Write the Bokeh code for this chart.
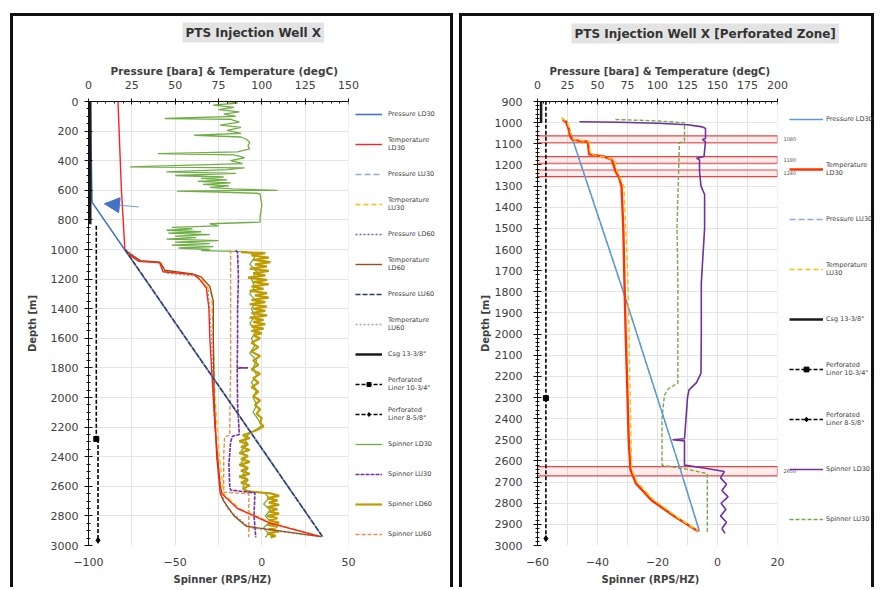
from bokeh.plotting import figure
from bokeh.models import (Range1d, LinearAxis, SingleIntervalTicker, FixedTicker, Legend,
                          LegendItem, Title, Label, Arrow, NormalHead, Spacer, BoxAnnotation)
from bokeh.layouts import row, column
from bokeh.embed import file_html
from bokeh.resources import INLINE

FONT = "DejaVu Sans"
TXT = "#404040"

# ---------------- LEFT CHART DATA (depth m ; P/T on top scale, spinner on bottom scale) -------------
L_p_ld30_d = [0, 680, 2940]
L_p_ld30_v = [1, 2, 135]
L_p_lu30_d = [1000, 2940]
L_p_lu30_v = [21, 135]
L_p_ld60_d = [1000, 2940]
L_p_ld60_v = [21, 135]
L_p_lu60_d = [1000, 2940]
L_p_lu60_v = [21, 135]

L_t_ld30_d = [0, 300, 600, 900, 1000, 1040, 1080, 1088, 1150, 1170, 1200, 1260, 1400, 1600, 1800,
              2000, 2200, 2400, 2600, 2650, 2750, 2850, 2940]
L_t_ld30_v = [17, 18, 19, 20.5, 21, 24, 29, 41, 43, 61, 64, 68, 69.5, 70, 71, 72, 73, 74.5, 76, 77,
              86, 105, 134]
L_t_lu30_d = [1000, 1040, 1080, 1090, 1150, 1175, 1210, 1300, 1600, 2000, 2400, 2650, 2750, 2850, 2940]
L_t_lu30_v = [21, 25, 30, 42, 44, 62, 66, 71, 72, 73, 75.5, 78, 87, 106, 134]
L_t_ld60_d = [1000, 1030, 1075, 1085, 1140, 1165, 1185, 1250, 1350, 1600, 2000, 2400, 2650, 2700,
              2800, 2870, 2940]
L_t_ld60_v = [21, 24, 30, 41, 44, 60, 65, 70, 72, 72, 72.5, 74, 76, 78, 84, 91, 134]
L_t_lu60_d = [1000, 1080, 1090, 1160, 1180, 1260, 1600, 2000, 2400, 2650, 2750, 2880, 2940]
L_t_lu60_v = [21.5, 30, 42, 45, 62, 69, 71, 72, 74, 77, 80, 93, 134]

L_csg_d = [0, 830]
L_csg_v = [1, 1]
L_lin1_d = [840, 2280]
L_lin1_v = [4.5, 4.5]
L_lin2_d = [2280, 2965]
L_lin2_v = [5.5, 5.5]

L_s_ld30_d = [0, 10, 25, 40, 55, 70, 85, 100, 115, 120, 140, 160, 175, 195, 215, 228, 240, 255, 275,
              300, 320, 340, 352, 360, 380, 400, 420, 442, 448, 460, 476, 485, 500, 510, 520, 530,
              540, 550, 560, 570, 580, 590, 600, 605, 612, 620, 625, 700, 780, 815, 826, 840, 850,
              860, 870, 880, 890, 900, 910, 920, 930, 940, 950, 960, 970, 980, 990, 1000, 1008,
              1015, 1025, 1050, 1100, 1150, 1200, 1250, 1300, 1350, 1400, 1450, 1500, 1550, 1600,
              1650, 1700, 1750, 1800, 1850, 1900, 1950, 2000, 2050, 2100, 2150, 2190, 2215, 2240,
              2280, 2320, 2360, 2400, 2440, 2480, 2520, 2560, 2600, 2630, 2645, 2680, 2720, 2760,
              2800, 2840, 2880, 2920, 2945]
L_s_ld30_v = [-20, -14, -28, -16, -25, -13, -22, -15, -56, -18, -13, -24, -12, -20, -12, -39, -12,
              -9, -7, -8, -7, -14, -60, -16, -10, -18, -11, -76, -10, -20, -55, -15, -50, -22, -35,
              -20, -37, -18, -34, -19, -30, -17, 9, -49, -25, -3, -1, 0, -1, -1, -30, -25, -52, -40,
              -55, -35, -54, -30, -50, -38, -55, -25, -50, -30, -52, -28, -48, -30, -35, -10, -6,
              -4, -7, -3, -6, -4, -7, -3, -6, -4, -7, -3, -6, -4, -7, -3, -5, -3, -6, -3, -5, -3,
              -5, -2, 0, -3, -7, -10, -8, -12, -9, -12, -8, -11, -8, -11, -9, 2, 4, 1, 5, 2, 5, 1,
              4, 2]
L_s_ld60_d = [1018, 1025, 1040, 1055, 1070, 1085, 1100, 1115, 1130, 1145, 1160, 1175, 1190, 1205,
              1220, 1235, 1250, 1265, 1280, 1295, 1310, 1325, 1340, 1355, 1370, 1385, 1400, 1415,
              1430, 1445, 1460, 1475, 1490, 1505, 1520, 1535, 1550, 1565, 1580, 1600, 1630, 1660,
              1690, 1720, 1750, 1780, 1810, 1840, 1870, 1900, 1930, 1960, 1990, 2020, 2050, 2080,
              2110, 2140, 2170, 2195, 2215, 2235, 2255, 2275, 2295, 2315, 2335, 2355, 2375, 2395,
              2415, 2435, 2455, 2475, 2495, 2515, 2535, 2555, 2575, 2595, 2615, 2635, 2648, 2665,
              2680, 2695, 2710, 2725, 2740, 2755, 2770, 2785, 2800, 2815, 2830, 2845, 2860, 2875,
              2890, 2905, 2920, 2935, 2945]
L_s_ld60_v = [-12, 2, -6, 4, -5, 5, -4, 3, -7, 4, -5, 2, -8, 3, -5, 4, -6, 1, -7, 3, -4, 4, -6, 2,
              -7, 3, -5, 2, -6, 3, -7, 1, -5, 2, -6, 1, -6, 0, -5, -1, -6, -2, -6, -1, -5, -2, -6,
              -1, -5, -2, -6, -2, -5, -1, -4, -1, -3, 0, -1, 1, -2, -6, -11, -7, -13, -8, -12, -7,
              -13, -8, -12, -7, -13, -8, -12, -7, -13, -8, -12, -7, -11, -8, 5, 10, 3, 9, 4, 10, 3,
              9, 4, 10, 3, 9, 4, 10, 3, 9, 4, 10, 3, 8, 5]
L_s_lu30_d = [1005, 1020, 1200, 1400, 1600, 1798, 1800, 1802, 2050, 2250, 2262, 2300, 2450, 2600,
              2625, 2645, 2800, 2945]
L_s_lu30_v = [-15, -14, -13.5, -14, -14, -14.2, -8, -14.2, -14, -13, -17, -18, -19, -18.5, -18, -4,
              -4.5, -3.5]
L_s_lu60_d = [1005, 1020, 1400, 1800, 2200, 2255, 2265, 2400, 2600, 2640, 2650, 2945]
L_s_lu60_v = [-19, -18, -18, -18, -18.5, -18.5, -21.5, -22, -22, -22, -7.5, -7.5]

# ---------------- RIGHT CHART DATA -------------
R_p_ld30_d = [990, 1790, 2640, 2934]
R_p_ld30_v = [24, 71, 119, 135]
R_p_lu30_d = [990, 1790, 2640, 2934]
R_p_lu30_v = [24, 71, 119, 135]
R_t_ld30_d = [985, 1000, 1030, 1060, 1080, 1086, 1090, 1150, 1160, 1175, 1230, 1260, 1300, 1500,
              1758, 2000, 2232, 2500, 2642, 2706, 2786, 2862, 2934]
R_t_ld30_v = [21, 24, 26, 27, 29, 35, 42, 43, 55, 62, 65, 68, 70, 71.5, 72.5, 73.5, 74.7, 76, 77.5,
              82, 95, 114, 134]
R_t_lu30_d = [975, 1000, 1040, 1080, 1090, 1150, 1165, 1180, 1240, 1300, 1758, 2232, 2640, 2700,
              2780, 2860, 2934]
R_t_lu30_v = [20, 25, 27, 30, 43, 44, 58, 64, 67, 72, 75.5, 77, 78.5, 83, 96, 115, 134]
R_csg_d = [900, 1000]
R_csg_v = [3, 3]
R_lin1_d = [840, 2303]
R_lin1_v = [7, 7]
R_lin2_d = [2303, 2967]
R_lin2_v = [7, 7]
R_s_ld30_d = [996, 998, 1003, 1010, 1020, 1028, 1075, 1080, 1090, 1160, 1168, 1175, 1230, 1300, 1340,
              1500, 1758, 2000, 2185, 2230, 2264, 2300, 2400, 2495, 2500, 2505, 2620, 2635, 2650,
              2680, 2710, 2740, 2770, 2800, 2830, 2860, 2890, 2920, 2943]
R_s_ld30_v = [-46, -33, -20, -10, -5, -4, -4, -5, -4, -4.5, -7, -6, -6, -5.5, -4.3, -4.3, -5.4, -5.4,
              -5.5, -7, -9.5, -10, -10.5, -11, -15, -11, -11, -4, 2.3, 1, 3, 1.5, 3.5, 1.2, 2.8, 1,
              3, 1.5, 2.5]
R_s_lu30_d = [985, 992, 1000, 1086, 1095, 1500, 1758, 2232, 2250, 2263, 2290, 2400, 2550, 2620, 2640,
              2660, 2943]
R_s_lu30_v = [-34, -20, -11, -11, -12.7, -13.5, -13.2, -13.2, -15.5, -16.6, -17.7, -18.5, -18.5,
              -18.5, -10, -3.4, -3.4]
R_zone_top = [1063, 1161, 1224, 2627]
R_zone_bot = [1095, 1192, 1255, 2671]
R_zone_lab = ["1080", "1180", "1240", "2650"]

# ---------------- styles ----------------
ST = {
    "p_ld30": dict(color="#4472C4", line_width=1.6),
    "p_lu30": dict(color="#8FAADC", line_width=1.3, line_dash="6 3"),
    "p_ld60": dict(color="#6A5ACD", line_width=1.3, line_dash="2 2"),
    "p_lu60": dict(color="#2F3B52", line_width=1.3, line_dash="5 2"),
    "t_ld30": dict(color="#FF2020", line_width=1.4),
    "t_lu30": dict(color="#FFC000", line_width=1.4, line_dash="5 3"),
    "t_ld60": dict(color="#9C4A1A", line_width=1.4),
    "t_lu60": dict(color="#A5A5A5", line_width=1.3, line_dash="2 2"),
    "csg": dict(color="#1A1A1A", line_width=2.5),
    "lin": dict(color="black", line_width=1.6, line_dash="4 2"),
    "s_ld30": dict(color="#70AD47", line_width=1.3),
    "s_ld60": dict(color="#BF9B00", line_width=2.2),
    "s_lu30": dict(color="#7030A0", line_width=1.6, line_dash="4 1"),
    "s_lu60": dict(color="#F08A4B", line_width=1.4, line_dash="4 2"),
    "r_p_ld30": dict(color="#5B9BD5", line_width=1.5),
    "r_p_lu30": dict(color="#8EA9DB", line_width=1.3, line_dash="6 3"),
    "r_t_ld30": dict(color="#FF3300", line_width=2.4),
    "r_t_lu30": dict(color="#FFC000", line_width=1.4, line_dash="5 3"),
    "r_s_ld30": dict(color="#7030A0", line_width=1.6),
    "r_s_lu30": dict(color="#70AD47", line_width=1.4, line_dash="4 2"),
}
BORDER = "3px solid #111"
H = 574
MBT, MBB, MBL = 85, 45, 75


def txt_title(text, size, offset, standoff):
    return Title(text=text, align="left", offset=offset, standoff=standoff, text_font=FONT,
                 text_font_size=size, text_font_style="bold", text_color=TXT)


def base_fig(width, data_px, xr, ptr, ystart, title, tsize, toffset, xlab_size, xlab_off, blab_off,
             yint, yminor, xticks, gridint, ylab_standoff, yaxlab_standoff):
    frame_px = width - MBL
    ext = frame_px / data_px
    x0, x1 = xr
    p0, p1_ = ptr
    p = figure(width=width, height=H,
               x_range=Range1d(x0, x0 + (x1 - x0) * ext), y_range=Range1d(3000, ystart),
               output_backend="svg", toolbar_location=None,
               min_border_left=MBL, min_border_right=0, min_border_top=MBT, min_border_bottom=MBB)
    p.extra_x_ranges = {"pt": Range1d(p0, p0 + (p1_ - p0) * ext)}
    p.outline_line_color = None
    p.styles = {"border-top": BORDER, "border-left": BORDER, "border-right": BORDER}

    top = LinearAxis(x_range_name="pt", ticker=SingleIntervalTicker(interval=25, num_minor_ticks=5),
                     bounds=(p0, p1_))
    p.add_layout(top, "above")
    p.add_layout(txt_title("Pressure [bara] & Temperature (degC)", xlab_size, xlab_off, 1), "above")
    p.add_layout(Title(text=" ", text_font_size="1px", standoff=17), "above")
    top.major_tick_in = 3
    top.major_tick_out = 3
    top.minor_tick_in = 2
    top.minor_tick_out = 0
    top.major_label_standoff = 10

    bx = p.below[0]
    bx.ticker = FixedTicker(ticks=xticks)
    bx.axis_line_color = None
    bx.major_tick_in = 0
    bx.major_tick_out = 0
    bx.minor_tick_in = 0
    bx.minor_tick_out = 0
    bx.major_label_standoff = 12
    p.add_layout(txt_title("Spinner (RPS/HZ)", "10px", blab_off, 6), "below")

    ly = p.left[0]
    ly.ticker = SingleIntervalTicker(interval=yint, num_minor_ticks=yminor)
    ly.axis_label = "Depth [m]"
    ly.major_tick_in = 4
    ly.major_tick_out = 4
    ly.minor_tick_in = 2
    ly.minor_tick_out = 2
    ly.major_label_standoff = ylab_standoff
    ly.axis_label_standoff = yaxlab_standoff
    ly.axis_label_text_font = FONT
    ly.axis_label_text_font_size = "10px"
    ly.axis_label_text_font_style = "bold"
    ly.axis_label_text_color = TXT

    for ax in [top, bx, ly]:
        ax.major_label_text_font = FONT
        ax.major_label_text_font_size = "11px"
        ax.major_label_text_color = TXT
    for ax in [top, ly]:
        ax.axis_line_color = "#111"
        ax.major_tick_line_color = "#111"
        ax.minor_tick_line_color = "#111"

    p.xgrid.ticker = SingleIntervalTicker(interval=gridint)
    p.ygrid.ticker = SingleIntervalTicker(interval=yint)
    p.xgrid.grid_line_color = "#E4E4E4"
    p.ygrid.grid_line_color = "#E4E4E4"

    p.title.text = title
    p.title.align = "left"
    p.title.offset = toffset
    p.title.standoff = 0
    p.title.text_font = FONT
    p.title.text_font_size = tsize
    p.title.text_font_style = "bold"
    p.title.text_color = "#333333"
    p.title.background_fill_color = "#E3E3E3"
    p.title.padding = 3

    # blank out the part of the frame that holds the legend
    p.add_layout(BoxAnnotation(left=x1, fill_color="white", fill_alpha=1.0, line_alpha=0))
    return p


def add_legend(p, items, loc, gw, gh, lh, sp, lstand):
    leg = Legend(items=[LegendItem(label=a, renderers=b) for a, b in items], location=loc, ncols=1,
                 margin=0, padding=0, glyph_width=gw, glyph_height=gh, label_height=lh, spacing=sp,
                 label_standoff=lstand, label_text_font=FONT, label_text_font_size="6.5px",
                 label_text_color=TXT, border_line_color=None, background_fill_alpha=0)
    p.add_layout(leg)


# ---------------- LEFT FIGURE ----------------
p1 = base_fig(443, 260, (-100, 50), (0, 150), 0, "PTS Injection Well X", "12px", 94, "10.5px", 22, 85,
              200, 4, [-100, -50, 0, 50], 25, 6, 10)

g_ld30 = p1.line(L_s_ld30_v, L_s_ld30_d, **ST["s_ld30"])
g_ld60 = p1.line(L_s_ld60_v, L_s_ld60_d, **ST["s_ld60"])
g_lu30 = p1.line(L_s_lu30_v, L_s_lu30_d, **ST["s_lu30"])
g_lu60 = p1.line(L_s_lu60_v, L_s_lu60_d, **ST["s_lu60"])
t_lu60 = p1.line(L_t_lu60_v, L_t_lu60_d, x_range_name="pt", **ST["t_lu60"])
t_lu30 = p1.line(L_t_lu30_v, L_t_lu30_d, x_range_name="pt", **ST["t_lu30"])
t_ld60 = p1.line(L_t_ld60_v, L_t_ld60_d, x_range_name="pt", **ST["t_ld60"])
t_ld30 = p1.line(L_t_ld30_v, L_t_ld30_d, x_range_name="pt", **ST["t_ld30"])
pr_ld30 = p1.line(L_p_ld30_v, L_p_ld30_d, x_range_name="pt", **ST["p_ld30"])
pr_lu30 = p1.line(L_p_lu30_v, L_p_lu30_d, x_range_name="pt", **ST["p_lu30"])
pr_ld60 = p1.line(L_p_ld60_v, L_p_ld60_d, x_range_name="pt", **ST["p_ld60"])
pr_lu60 = p1.line(L_p_lu60_v, L_p_lu60_d, x_range_name="pt", **ST["p_lu60"])
csg1 = p1.line(L_csg_v, L_csg_d, x_range_name="pt", **ST["csg"])
l1a = p1.line(L_lin1_v, L_lin1_d, x_range_name="pt", **ST["lin"])
l1b = p1.scatter([L_lin1_v[-1]], [L_lin1_d[-1]], x_range_name="pt", marker="square", size=5,
                 color="black")
l2a = p1.line(L_lin2_v, L_lin2_d, x_range_name="pt", **ST["lin"])
l2b = p1.scatter([L_lin2_v[-1]], [L_lin2_d[-1]], x_range_name="pt", marker="diamond", size=6,
                 color="black")

p1.add_layout(Arrow(end=NormalHead(size=15, fill_color="#4472C4", line_color="#4472C4"),
                    x_start=-71, y_start=713, x_end=-90.8, y_end=691,
                    line_color="#6F9BE0", line_width=1))

add_legend(p1, [("Pressure LD30", [pr_ld30]), ("Temperature\nLD30", [t_ld30]),
                ("Pressure LU30", [pr_lu30]), ("Temperature\nLU30", [t_lu30]),
                ("Pressure LD60", [pr_ld60]), ("Temperature\nLD60", [t_ld60]),
                ("Pressure LU60", [pr_lu60]), ("Temperature\nLU60", [t_lu60]),
                ("Csg 13-3/8\"", [csg1]), ("Perforated\nLiner 10-3/4\"", [l1a, l1b]),
                ("Perforated\nLiner 8-5/8\"", [l2a, l2b]), ("Spinner LD30", [g_ld30]),
                ("Spinner LU30", [g_lu30]), ("Spinner LD60", [g_ld60]), ("Spinner LU60", [g_lu60])],
           (267, 0), 27, 10, 22, 8, 6)

# ---------------- RIGHT FIGURE ----------------
p2 = base_fig(415, 240, (-60, 20), (0, 200), 900, "PTS Injection Well X [Perforated Zone]", "12px",
              34, "10.2px", 12, 64, 100, 5, [-60, -40, -20, 0, 20], 10, 11, 1)

p2.quad(left=-60, right=20, top=R_zone_top, bottom=R_zone_bot, fill_color="#FF0000", fill_alpha=0.07,
        line_color="#F04040", line_width=1.2)
rs_lu30 = p2.line(R_s_lu30_v, R_s_lu30_d, **ST["r_s_lu30"])
rs_ld30 = p2.line(R_s_ld30_v, R_s_ld30_d, **ST["r_s_ld30"])
rp_lu30 = p2.line(R_p_lu30_v, R_p_lu30_d, x_range_name="pt", **ST["r_p_lu30"])
rp_ld30 = p2.line(R_p_ld30_v, R_p_ld30_d, x_range_name="pt", **ST["r_p_ld30"])
rt_ld30 = p2.line(R_t_ld30_v, R_t_ld30_d, x_range_name="pt", **ST["r_t_ld30"])
rt_lu30 = p2.line(R_t_lu30_v, R_t_lu30_d, x_range_name="pt", **ST["r_t_lu30"])
rcsg = p2.line(R_csg_v, R_csg_d, x_range_name="pt", **ST["csg"])
r1a = p2.line(R_lin1_v, R_lin1_d, x_range_name="pt", **ST["lin"])
r1b = p2.scatter([R_lin1_v[-1]], [R_lin1_d[-1]], x_range_name="pt", marker="square", size=5,
                 color="black")
r2a = p2.line(R_lin2_v, R_lin2_d, x_range_name="pt", **ST["lin"])
r2b = p2.scatter([R_lin2_v[-1]], [R_lin2_d[-1]], x_range_name="pt", marker="diamond", size=6,
                 color="black")

for yt, yb, lab in zip(R_zone_top, R_zone_bot, R_zone_lab):
    p2.add_layout(Label(x=22, y=(yt + yb) / 2, text=lab, text_font=FONT, text_font_size="5px",
                        text_color="#555555", text_baseline="middle"))

add_legend(p2, [("Pressure LD30", [rp_ld30]), ("Temperature\nLD30", [rt_ld30]),
                ("Pressure LU30", [rp_lu30]), ("Temperature\nLU30", [rt_lu30]),
                ("Csg 13-3/8\"", [rcsg]), ("Perforated\nLiner 10-3/4\"", [r1a, r1b]),
                ("Perforated\nLiner 8-5/8\"", [r2a, r2b]), ("Spinner LD30", [rs_ld30]),
                ("Spinner LU30", [rs_lu30])],
           (252, 11), 34, 12, 30, 20, 3)

layout = column(Spacer(height=13), row(Spacer(width=10), p1, Spacer(width=6), p2))
open("out.html", "w").write(file_html(layout, INLINE))
